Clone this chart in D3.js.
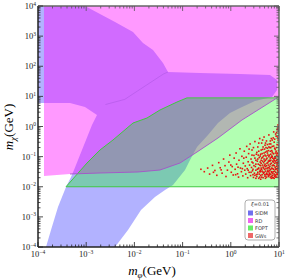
<!DOCTYPE html>
<html><head><meta charset="utf-8">
<script src="https://cdn.jsdelivr.net/npm/d3@7/dist/d3.min.js"></script>
<style>body{margin:0;background:#fff} svg{display:block}</style>
</head><body>
<script>
// outlines, as [log10 m_phi, log10 m_chi]
let sidm = [[-4,4],[-3.025,4],[-2.714,3.734],[-2.402,3.469],[-2.029,3.137],[-1.822,2.772],[-1.614,2.539],[-1.407,2.108],[-1.303,1.809],
  [-0.639,1.776],[0.191,1.743],[0.813,1.71],[0.959,1.544],[0.959,1.212],[0.855,0.979],[0.502,0.846],[0.191,0.614],[-0.017,0.448],
  [-0.266,0.116],[-0.473,-0.282],[-0.701,-0.681],[-0.846,-1.112],[-0.95,-1.444],[-1.199,-1.942],[-1.365,-2.108],[-1.573,-2.34],
  [-1.863,-2.772],[-2.133,-3.436],[-2.402,-4],[-3.834,-4],[-3.73,-3.436],[-3.585,-2.672],[-3.419,-2.008],[-3.315,-1.676],
  [-3.253,-1.444],[-3.129,-0.946],[-3.004,-0.448],[-2.88,0.05],[-2.776,0.382],[-3.025,0.647],[-3.336,0.78],[-4,0.78]]
let rd = [[-3.876,4],[1,4],[1,0.946],[0.959,0.946],[0.232,0.216],[-0.266,-0.382],[-0.701,-0.847],[-1.054,-1.212],
  [-1.469,-1.444],[-1.925,-1.51],[-2.714,-1.544],[-3.336,-1.577],[-3.876,-1.643]]
let rdEdge = [[0.959,0.946],[0.232,0.216],[-0.266,-0.382],[-0.701,-0.847],[-1.054,-1.212],[-1.469,-1.444],[-1.925,-1.51],
  [-2.714,-1.544],[-3.336,-1.577]]
let sidmInner = [[-2.6,0.73],[-2.2,0.9],[-1.82,1.3],[-1.4,1.74],[-1.303,1.809]]
let fopt = [[-3.419,-2],[-2.983,-1.212],[-2.714,-0.78],[-2.444,-0.448],[-2.029,0.116],[-1.739,0.282],[-1.469,0.548],
  [-1.116,0.813],[-0.909,0.95],[1,0.95],[1,-2]]
let gws = [[-0.62,-1.42],[-0.55,-1.5],[-0.48,-1.38],[-0.44,-1.58],[-0.38,-1.29],[-0.33,-1.46],[-0.29,-1.62],[-0.25,-1.2],
  [-0.22,-1.37],[-0.18,-1.55],[-0.15,-1.08],[-0.12,-1.3],[-0.1,-1.66],[-0.07,-1.45],[-0.04,-1.18],[-0.02,-0.95],[0.01,-1.52],
  [0.03,-1.33],[0.05,-1.61],[0.07,-1.05],[0.09,-1.42],[0.11,-0.88],[0.12,-1.25],[0.14,-1.57],[0.16,-1.68],[0.17,-1.12],
  [0.19,-0.74],[0.2,-1.38],[0.22,-1.5],[0.23,-0.99],[0.25,-1.64],[0.26,-1.22],[0.28,-0.82],[0.29,-1.45],[0.3,-1.31],
  [0.31,-1.58],[0.32,-1.02],[0.33,-0.66],[0.34,-1.4],[0.35,-1.7],[0.36,-1.17],[0.37,-0.9],[0.38,-1.52],[0.39,-1.28],
  [0.4,-0.58],[0.41,-1.63],[0.42,-1.08],[0.43,-1.36],[0.44,-0.78],[0.45,-1.47],[0.46,-1.21],[0.47,-1.69],[0.48,-0.96],
  [0.49,-1.55],[0.5,-0.5],[0.51,-1.33],[0.52,-1.12],[0.53,-1.6],[0.54,-0.86],[0.55,-1.42],[0.56,-0.68],[0.57,-1.25],
  [0.58,-1.72],[0.59,-1.03],[0.6,-1.5],[0.6,-0.4],[0.61,-1.18],[0.62,-0.92],[0.62,-1.62],[0.63,-1.38],[0.64,-0.55],
  [0.64,-1.05],[0.65,-1.48],[0.66,-0.76],[0.66,-1.28],[0.67,-1.7],[0.68,-0.98],[0.68,-1.55],[0.69,-0.35],[0.7,-1.15],
  [0.7,-1.42],[0.71,-0.62],[0.72,-1.33],[0.72,-0.85],[0.73,-1.6],[0.74,-1.08],[0.74,-0.48],[0.75,-1.22],[0.76,-1.5],
  [0.76,-0.72],[0.77,-0.95],[0.78,-1.66],[0.78,-1.36],[0.79,-0.28],[0.8,-1.12],[0.8,-0.58],[0.81,-1.45],[0.82,-0.82],
  [0.82,-1.25],[0.83,-1.58],[0.84,-1.02],[0.84,-0.4],[0.85,-1.38],[0.86,-0.66],[0.86,-1.7],[0.87,-1.15],[0.88,-0.9],
  [0.88,-1.5],[0.89,-0.18],[0.9,-1.3],[0.9,-0.52],[0.91,-1.05],[0.92,-1.62],[0.92,-0.76],[0.93,-1.42],[0.94,-0.32],
  [0.94,-1.2],[0.95,-0.95],[0.96,-1.55],[0.96,-0.6],[0.97,-1.1],[0.98,-0.05],[0.98,-1.35],[0.99,-0.8],[0.99,-1.68],
  [0.42,-1.52],[0.44,-1.18],[0.46,-1.6],[0.48,-1.3],[0.5,-1.05],[0.52,-1.45],[0.54,-1.66],[0.55,-1.15],[0.57,-0.95],
  [0.58,-1.38],[0.59,-1.58],[0.61,-1.45],[0.63,-1.12],[0.63,-0.78],[0.65,-1.6],[0.66,-1.02],[0.67,-1.35],[0.69,-1.52],
  [0.69,-0.88],[0.71,-1.25],[0.71,-1.65],[0.73,-0.98],[0.73,-1.4],[0.75,-1.58],[0.75,-0.82],[0.77,-1.2],[0.77,-1.45],
  [0.79,-1.0],[0.79,-1.62],[0.81,-0.7],[0.81,-1.32],[0.83,-1.12],[0.83,-0.92],[0.85,-1.52],[0.85,-0.8],[0.87,-1.4],
  [0.87,-1.62],[0.89,-1.08],[0.89,-0.65],[0.91,-1.48],[0.91,-1.22],[0.93,-0.88],[0.93,-1.68],[0.95,-1.32],[0.95,-0.7],
  [0.97,-1.45],[0.97,-0.9],[0.98,-0.45],[0.99,-1.18],[0.99,-1.52],[0.86,-1.0],[0.8,-1.55],[0.74,-1.3],[0.68,-1.2],
  [0.62,-1.3],[0.56,-1.52],[0.88,-1.28],[0.92,-1.0],[0.96,-1.25],[0.94,-1.6],[0.9,-1.72],[0.84,-1.72],[0.78,-1.15],
  [0.72,-1.72],[0.7,-0.75],[0.76,-0.6],[0.82,-0.48],[0.88,-0.38],[0.95,-0.2],[0.97,-0.35],
  [0.52,-1.25],[0.53,-0.92],[0.55,-1.58],[0.56,-1.08],[0.57,-1.4],[0.58,-0.82],[0.6,-1.28],[0.6,-1.68],[0.61,-0.98],
  [0.62,-1.5],[0.63,-1.22],[0.64,-1.42],[0.64,-1.68],[0.65,-0.9],[0.66,-1.15],[0.67,-1.52],[0.67,-0.68],[0.68,-1.38],
  [0.69,-1.08],[0.7,-1.6],[0.7,-1.3],[0.71,-0.95],[0.72,-1.48],[0.72,-1.12],[0.73,-0.7],[0.74,-1.55],[0.74,-1.68],
  [0.75,-1.05],[0.76,-1.38],[0.76,-0.88],[0.77,-1.6],[0.78,-0.8],[0.78,-1.28],[0.79,-1.5],[0.8,-0.95],[0.8,-1.38],
  [0.81,-1.6],[0.81,-1.15],[0.82,-1.05],[0.82,-1.68],[0.83,-1.42],[0.83,-0.7],[0.84,-1.22],[0.84,-1.5],[0.85,-0.98],
  [0.85,-1.65],[0.86,-1.3],[0.86,-0.85],[0.87,-1.55],[0.87,-1.05],[0.88,-1.7],[0.88,-1.18],[0.89,-1.42],[0.89,-0.9],
  [0.9,-1.58],[0.9,-1.12],[0.91,-0.72],[0.91,-1.65],[0.92,-1.35],[0.92,-1.15],[0.93,-1.52],[0.93,-1.05],[0.94,-0.82],
  [0.94,-1.4],[0.95,-1.68],[0.95,-1.12],[0.96,-0.88],[0.96,-1.4],[0.97,-1.6],[0.97,-1.2],[0.98,-1.5],[0.98,-0.98],
  [0.99,-1.3],[0.99,-0.62],[0.99,-0.15],[0.98,0.05],[0.96,-0.1],[0.93,-0.25],[0.91,-0.42],[0.86,-0.45],[0.83,-0.58],
  [0.79,-0.68],[0.72,-0.55],[0.66,-0.45],[0.58,-0.55],[0.47,-0.7],[0.38,-0.75],[0.27,-1.05],[0.15,-1.35],[0.0,-1.28],
  [-0.2,-1.44],[-0.36,-1.52],[0.46,-1.42],[0.5,-1.62],[0.44,-0.95],[0.36,-1.45],[0.24,-1.4],[0.1,-1.6],[0.52,-1.72],[0.62,-1.75]]
let xExps = [-4,-3,-2,-1,0,1]
let yExps = [-4,-3,-2,-1,0,1,2,3,4]
let legendTitle = "0.01"
let legendNames = ["SIDM","RD","FOPT","GWs"]
let legendColors = ["#7070ee","#ee66ee","#66ee66","#ee6868"]

let L = 38, R = 279, T = 6, B = 247
let x = d3.scaleLog().domain([1e-4, 10]).range([L, R])
let y = d3.scaleLog().domain([1e-4, 1e4]).range([B, T])
let px = d=>x(10**d[0]), py = d=>y(10**d[1])
let line = d3.line().x(px).y(py)

let svg = d3.select("body").append("svg").attr("width", 286).attr("height", 280)
svg.append("clipPath").attr("id","clip").append("rect")
  .attr("x", L).attr("y", T).attr("width", R-L).attr("height", B-T)
let g = svg.append("g").attr("clip-path","url(#clip)")

g.append("path").attr("d", line(sidm)+"Z").attr("fill","rgb(0,0,255)").attr("fill-opacity",0.3)
g.append("path").attr("d", line(rd)+"Z").attr("fill","rgb(255,0,255)").attr("fill-opacity",0.4)
g.append("path").attr("d", line(sidmInner)).attr("fill","none").attr("stroke","#a050d8").attr("stroke-width",0.7).attr("opacity",0.6)
g.append("path").attr("d", line(fopt)+"Z").attr("fill","rgb(0,255,0)").attr("fill-opacity",0.3)
  .attr("stroke","#40c840").attr("stroke-width",1)
g.append("path").attr("d", line(rdEdge)).attr("fill","none").attr("stroke","#a552c8").attr("stroke-width",0.9)

g.selectAll("rect.gw").data(gws).enter().append("rect").attr("class","gw")
  .attr("x", d=>px(d)-0.8).attr("y", d=>py(d)-0.8).attr("width",1.6).attr("height",1.6).attr("fill","#e81010")

// frame and ticks
let frame = [[L,B,R,B,"#222"],[L,T,L,B,"#222"],[L,T,R,T,"#666"],[R,T,R,B,"#666"]]
frame.forEach(f=>svg.append("line").attr("x1",f[0]).attr("y1",f[1]).attr("x2",f[2]).attr("y2",f[3])
  .attr("stroke",f[4]).attr("stroke-width",1.5))
let isMajor = v=>Math.abs(Math.log10(v)-Math.round(Math.log10(v)))<1e-6
let tk = svg.append("g")
x.ticks().forEach(v=>{
  let len = isMajor(v)?5:2.5
  tk.append("line").attr("x1",x(v)).attr("x2",x(v)).attr("y1",B).attr("y2",B-len).attr("stroke","#222").attr("stroke-width",0.8)
  tk.append("line").attr("x1",x(v)).attr("x2",x(v)).attr("y1",T).attr("y2",T+len).attr("stroke","#555").attr("stroke-width",0.8)
})
y.ticks().forEach(v=>{
  let len = isMajor(v)?5:2.5
  tk.append("line").attr("y1",y(v)).attr("y2",y(v)).attr("x1",L).attr("x2",L+len).attr("stroke","#222").attr("stroke-width",0.8)
  tk.append("line").attr("y1",y(v)).attr("y2",y(v)).attr("x1",R).attr("x2",R-len).attr("stroke","#555").attr("stroke-width",0.8)
})

let serif = "'Liberation Serif','DejaVu Serif',serif"
let sup = e=>(e<0?"\u2212":"")+Math.abs(e)
xExps.forEach(e=>{
  let t = svg.append("text").attr("x", x(10**e)).attr("y", 257).attr("text-anchor","middle")
    .attr("font-family",serif).attr("font-size",8.5).attr("fill","#222")
  t.append("tspan").text("10")
  t.append("tspan").attr("dy",-3.5).attr("font-size",5.5).text(sup(e))
})
yExps.forEach(e=>{
  let t = svg.append("text").attr("x", 36).attr("y", y(10**e)+3).attr("text-anchor","end")
    .attr("font-family",serif).attr("font-size",8.5).attr("fill","#222")
  t.append("tspan").text("10")
  t.append("tspan").attr("dy",-3.5).attr("font-size",5.5).text(sup(e))
})

let xl = svg.append("text").attr("x",152).attr("y",275).attr("text-anchor","middle").attr("font-family",serif).attr("font-size",13)
xl.append("tspan").attr("font-style","italic").text("m")
xl.append("tspan").attr("font-style","italic").attr("font-size",9).attr("dy",3).text("\u03c6")
xl.append("tspan").attr("dy",-3).text("(GeV)")
let yl = svg.append("text").attr("transform","translate(13,127) rotate(-90)").attr("text-anchor","middle")
  .attr("font-family",serif).attr("font-size",13)
yl.append("tspan").attr("font-style","italic").text("m")
yl.append("tspan").attr("font-style","italic").attr("font-size",9).attr("dy",3).text("\u03c7")
yl.append("tspan").attr("dy",-3).text("(GeV)")

// legend
let lg = svg.append("g").attr("font-family","'DejaVu Sans',sans-serif")
lg.append("rect").attr("x",245).attr("y",200).attr("width",30).attr("height",40).attr("rx",3)
  .attr("fill","#fff").attr("stroke","#999").attr("stroke-width",0.8)
let lt = lg.append("text").attr("x",260).attr("y",206).attr("text-anchor","middle").attr("font-size",5).attr("fill","#333")
lt.append("tspan").attr("font-style","italic").text("\u03be")
lt.append("tspan").text("="+legendTitle)
legendNames.forEach((n,i)=>{
  let yc = 213+i*7.5
  lg.append("rect").attr("x",248).attr("y",yc-2.5).attr("width",5).attr("height",5).attr("fill",legendColors[i])
  lg.append("text").attr("x",255).attr("y",yc+2).attr("font-size",5).attr("fill","#333").text(n)
})
</script>
</body></html>
